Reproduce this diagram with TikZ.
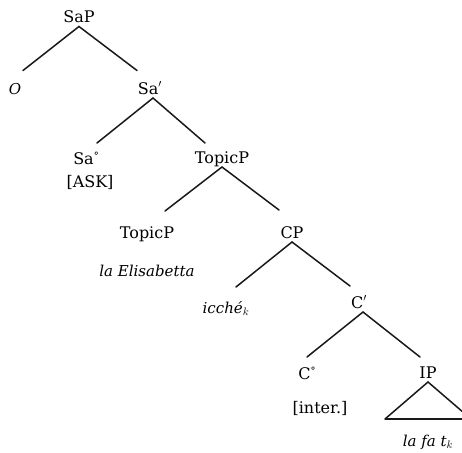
\documentclass[tikz,border=0pt]{standalone}
\usepackage{fontspec}
\setmainfont{DejaVu Serif}
\usetikzlibrary{calc}
\newcommand{\degsup}{{\fontsize{10}{10}\selectfont\raisebox{4.5pt}{°}}}
\begin{document}
\begin{tikzpicture}[x=1pt,y=-1pt,
  lbl/.style={font=\fontsize{16}{19}\selectfont, inner sep=0pt, outer sep=0.5pt, text height=12.5pt, text depth=3.5pt},
  ilbl/.style={lbl, font=\fontsize{15}{18}\selectfont\itshape},
  edge/.style={line width=1.5pt, black!90, line cap=round},
  base/.style={line width=2.2pt, black!90}]
\useasboundingbox (0,0) rectangle (462,452);
\node[lbl] (SaP) at (79,18) {SaP};
\node[ilbl] (O) at (15,89.5) {O};
\node[lbl] (Sab) at (150,89.5) {Sa$'$};
\node[lbl] (Sa0) at (86,159.5) {Sa\degsup};
\node[lbl] (ASK) at (90,182.5) {[ASK]};
\node[lbl] (Top1) at (222,158.5) {TopicP};
\node[lbl] (Top2) at (147,233.5) {TopicP};
\node[ilbl] (Elis) at (147,271.5) {la Elisabetta};
\node[lbl] (CP) at (292,233.5) {CP};
\node[ilbl] (icche) at (226,308.5) {icché$_{k}$};
\node[lbl] (Cb) at (359,303.5) {C$'$};
\node[lbl] (C0) at (307,374.5) {C\degsup};
\node[lbl] (inter) at (320,408.5) {[inter.]};
\node[lbl] (IP) at (428,373.5) {IP};
\node[ilbl] (lafa) at (428,441.5) {la fa t$_{k}$};
% free ends of the branches
\path (SaP.south) ++(-56,44) coordinate (SaPl) (SaP.south) ++(58,44) coordinate (SaPr);
\path ([xshift=3pt]Sab.south) ++(-56,45) coordinate (Sabl) ([xshift=3pt]Sab.south) ++(52,45) coordinate (Sabr);
\path (Top1.south) ++(-57,44) coordinate (Topl) (Top1.south) ++(57,43) coordinate (Topr);
\path (CP.south) ++(-56,45) coordinate (CPl) (CP.south) ++(58,44) coordinate (CPr);
\path ([xshift=4pt]Cb.south) ++(-56,45) coordinate (Cbl) ([xshift=4pt]Cb.south) ++(57,45) coordinate (Cbr);
\coordinate (tl) at (385,419);
\coordinate (tr) at (471,419);
\draw[edge] (SaPl) -- (SaP.south) -- (SaPr);
\draw[edge] (Sabl) -- ([xshift=3pt]Sab.south) -- (Sabr);
\draw[edge] (Topl) -- (Top1.south) -- (Topr);
\draw[edge] (CPl) -- (CP.south) -- (CPr);
\draw[edge] (Cbl) -- ([xshift=4pt]Cb.south) -- (Cbr);
\draw[edge] (tl) -- (IP.south) -- (tr);
\draw[base] (tl) -- (tr);
\end{tikzpicture}
\end{document}
